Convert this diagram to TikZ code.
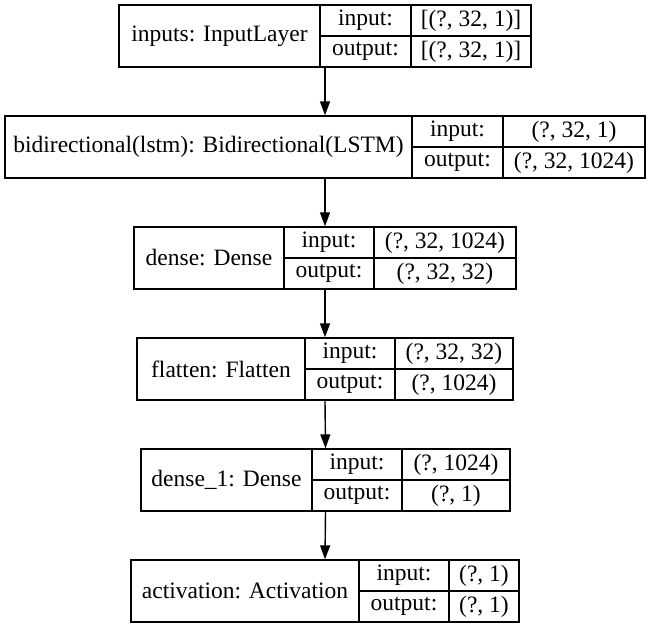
\documentclass[tikz,border=0pt]{standalone}
\usepackage{fontspec}
\setmainfont{Liberation Serif}
\usetikzlibrary{arrows.meta}
\tikzset{
  outline/.style={draw=black, line width=1.4pt, inner sep=0pt, fill=none},
  cell/.style={draw=black, line width=1.4pt, inner sep=0pt, font=\fontsize{23.5}{28}\selectfont},
  flow/.style={draw=black, line width=1.4pt, -{Triangle[length=14pt,width=10pt]}}
}
% #1 name, #2 left, #3 d1, #4 d2, #5 right, #6 top, #7 label, #8 input, #9 output
\newcommand\kerasbox[9]{%
  \node[cell, minimum width={(#3-#2)*1pt}, minimum height=62pt] (#1-l) at ({(#2+#3)/2},{#6+31}) {#7};
  \node[cell, minimum width={(#4-#3)*1pt}, minimum height=31pt] (#1-ik) at ({(#3+#4)/2},{#6+15.5}) {input:};
  \node[cell, minimum width={(#4-#3)*1pt}, minimum height=31pt] (#1-ok) at ({(#3+#4)/2},{#6+46.5}) {output:};
  \node[cell, minimum width={(#5-#4)*1pt}, minimum height=31pt] (#1-iv) at ({(#4+#5)/2},{#6+15.5}) {#8};
  \node[cell, minimum width={(#5-#4)*1pt}, minimum height=31pt] (#1-ov) at ({(#4+#5)/2},{#6+46.5}) {#9};
  \node[outline, minimum width={(#5-#2)*1pt}, minimum height=62pt] (#1) at ({(#2+#5)/2},{#6+31}) {};
}
\begin{document}
\begin{tikzpicture}[x=1pt,y=-1pt]
\useasboundingbox (0,0) rectangle (651,627);
\kerasbox{b1}{119}{320}{411}{531}{5}{inputs: InputLayer}{[(?, 32, 1)]}{[(?, 32, 1)]}
\kerasbox{b2}{5}{412}{503}{645}{116}{bidirectional(lstm): Bidirectional(LSTM)}{(?, 32, 1)}{(?, 32, 1024)}
\kerasbox{b3}{134}{284}{374}{516}{227}{dense: Dense}{(?, 32, 1024)}{(?, 32, 32)}
\kerasbox{b4}{137}{305}{395}{513}{338}{flatten: Flatten}{(?, 32, 32)}{(?, 1024)}
\kerasbox{b5}{141}{312}{402}{510}{449}{dense\_1: Dense}{(?, 1024)}{(?, 1)}
\kerasbox{b6}{131}{359}{449}{519}{560}{activation: Activation}{(?, 1)}{(?, 1)}
\draw[flow] (b1.south) -- (b2.north);
\draw[flow] (b2.south) -- (b3.north);
\draw[flow] (b3.south) -- (b4.north);
\draw[flow] (b4.south) -- (b5.north);
\draw[flow] (b5.south) -- (b6.north);
\end{tikzpicture}
\end{document}
